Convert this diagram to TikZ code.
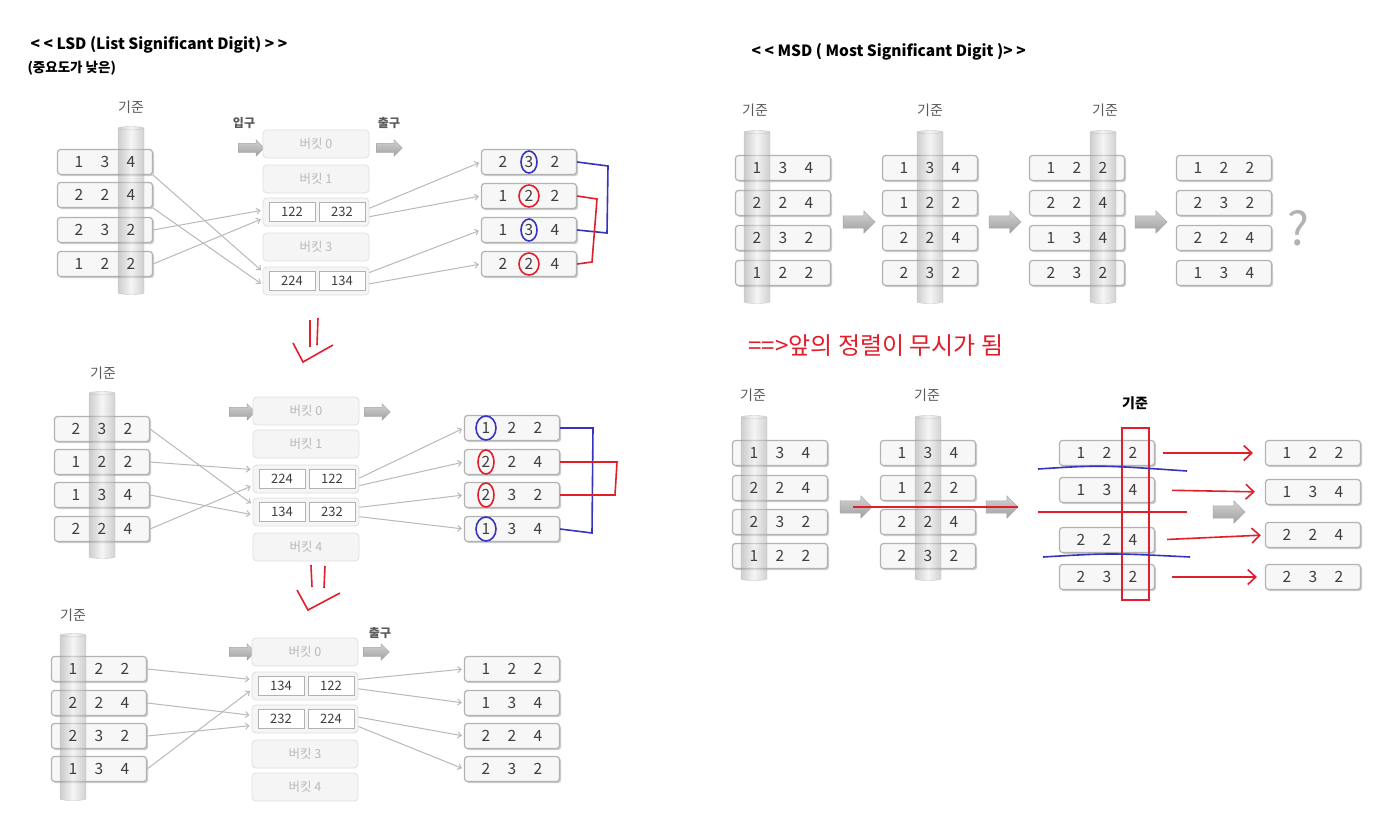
\documentclass[tikz,border=0pt]{standalone}
\usepackage{fontspec}
\setmainfont{Noto Sans CJK KR}
\usepackage{tikz}
\usetikzlibrary{positioning, arrows.meta, calc, shapes.geometric, shapes.arrows, shadows}
\pgfdeclarelayer{front}
\pgfsetlayers{main,front}
\definecolor{digitc}{RGB}{62,62,62}
\definecolor{penblue}{RGB}{52,52,190}
\definecolor{penred}{RGB}{226,30,42}
\newcommand{\dg}[3]{\makebox[26pt]{#1}\makebox[26pt]{#2}\makebox[26pt]{#3}}
\newcommand{\recnode}[3]{\node[rec] (#1) at (#2) {};
  \begin{pgfonlayer}{front}\node[dig] (#1d) at (#1.center) {\dg#3};\end{pgfonlayer}}

\begin{document}
\begin{tikzpicture}[x=1pt, y=-1pt,
  rec/.style={draw=gray!60, line width=1.2pt, fill=gray!6, rounded corners=3pt, minimum width=95pt, minimum height=25pt, inner sep=0pt,
    drop shadow={shadow xshift=1.6pt, shadow yshift=-1.6pt, fill=gray!70, opacity=0.55}},
  dig/.style={font=\fontsize{15.5}{15.5}\selectfont, text=digitc, inner sep=0pt},
  bk/.style={draw=gray!25, fill=gray!8, rounded corners=4pt, minimum width=106pt, minimum height=28pt, inner sep=0pt, line width=0.8pt,
    text=gray!55, font=\fontsize{12.5}{12.5}\selectfont},
  it/.style={draw=gray!60, fill=white, minimum width=46pt, minimum height=19pt, inner sep=0pt, font=\fontsize{13}{13}\selectfont, text=digitc},
  ba/.style={single arrow, draw=gray!70, top color=gray!35, bottom color=gray!75, minimum height=26pt, inner sep=4.5pt, single arrow head extend=3.5pt},
  bam/.style={ba, minimum height=32pt, inner sep=6pt, single arrow head extend=5pt},
  pil/.style={cylinder, shape border rotate=90, aspect=0.5, minimum width=26pt, draw=gray!60, left color=gray!75, right color=gray!70,
    middle color=gray!15, fill opacity=0.5, draw opacity=0.6},
  ln/.style={draw=gray!55, line width=1pt, -{Straight Barb[length=3.5pt, width=6pt]}, shorten >=2pt},
  lbl/.style={font=\fontsize{14}{14}\selectfont, text=gray!70!black},
  io/.style={font=\bfseries\fontsize{12}{12}\selectfont, text=gray!70!black},
  S/.style={penblue, line width=1.6pt},
  R/.style={penred, line width=1.6pt},
  rarr/.style={R, -{Straight Barb[length=8pt, width=15pt]}}]
\fill[white] (0,0) rectangle (1382,825);
\useasboundingbox (0,0) rectangle (1382,825);
% LSD, first pass
\node[font=\bfseries\fontsize{15.5}{15.5}\selectfont, anchor=west] (lsdt) at (27,45) {< < LSD (List Significant Digit) > >};
\node[font=\bfseries\fontsize{13.5}{13.5}\selectfont, anchor=west] (lsds) at (24,68) {(중요도가 낮은)};
\node[lbl] (ka) at (131,107) {기준};
\node[io] (ina) at (244,123) {입구};
\node[io] (outa) at (389,123) {출구};
\recnode{a1}{105,162}{134}
\recnode{a2}{105,195}{224}
\recnode{a3}{105,230}{232}
\recnode{a4}{105,264}{122}
\node[pil, minimum height=168pt] (pa) at (131,212) {};
\node[ba] (bai) at (249,148) {};
\node[ba] (bao) at (387,148) {};
\node[bk] (ab0) at (316,144) {버킷 0};
\node[bk] (ab1) at (316,179) {버킷 1};
\node[bk] (ab2) at (316,212) {};
\node[bk] (ab3) at (316,247) {버킷 3};
\node[bk] (ab4) at (316,281) {};
\node[it] (ai1) at (292,212) {122};
\node[it] (ai2) at (342,212) {232};
\node[it] (ai3) at (292,281) {224};
\node[it] (ai4) at (342,281) {134};
\recnode{ar1}{529,162}{232}
\recnode{ar2}{529,196}{122}
\recnode{ar3}{529,230}{134}
\recnode{ar4}{529,264}{224}
\draw[ln] (a1.south east) -- (ab4.170);
\draw[ln] (a2.south east) -- (ab4.184);
\draw[ln] (a3.east) -- (ab2.178);
\draw[ln] (a4.east) -- (ab2.187);
\draw[ln] (ab2.4) -- (ar1.west);
\draw[ln] (ab2.355) -- (ar2.west);
\draw[ln] (ab4.9) -- (ar3.west);
\draw[ln] (ab4.357) -- (ar4.west);
\draw[S] (ar1.center) ellipse [x radius=8, y radius=11];
\draw[S] (ar3.center) ellipse [x radius=8, y radius=11];
\draw[R] (ar2.center) ellipse [x radius=10, y radius=11];
\draw[R] (ar4.center) ellipse [x radius=10, y radius=11];
\draw[S] (ar1.east) -- (608,166) -- (607,233) -- (ar3.east);
\draw[R] (ar2.east) -- (597,199) -- (592,262) -- (ar4.east);
\draw[R] (310,320) -- (310,347);
\draw[R] (318,318) -- (317,345);
\draw[R] (293,343) -- (303,362) -- (333,345);
% LSD, second pass
\node[lbl] (kb) at (103,373) {기준};
\recnode{b1}{102,429}{232}
\recnode{b2}{102,462}{122}
\recnode{b3}{102,495}{134}
\recnode{b4}{102,529}{224}
\node[pil, minimum height=167pt] (pb) at (102,476.5) {};
\node[ba] (bbi) at (240,412) {};
\node[ba] (bbo) at (375,412) {};
\node[bk] (bb0) at (306,411) {버킷 0};
\node[bk] (bb1) at (306,444) {버킷 1};
\node[bk] (bb2) at (306,479) {};
\node[bk] (bb3) at (306,512) {};
\node[bk] (bb4) at (306,547) {버킷 4};
\node[it] (bi1) at (282,479) {224};
\node[it] (bi2) at (332,479) {122};
\node[it] (bi3) at (282,512) {134};
\node[it] (bi4) at (332,512) {232};
\recnode{br1}{512,428}{122}
\recnode{br2}{512,462}{224}
\recnode{br3}{512,495}{232}
\recnode{br4}{512,529}{134}
\draw[ln] (b1.east) -- (bb3.172);
\draw[ln] (b2.east) -- (bb2.170);
\draw[ln] (b3.east) -- (bb3.183);
\draw[ln] (b4.east) -- (bb2.187);
\draw[ln] (bb2.1) -- (br1.west);
\draw[ln] (bb2.353) -- (br2.west);
\draw[ln] (bb3.5) -- (br3.west);
\draw[ln] (bb3.355) -- (br4.west);
\draw[S] ($(br1.center)+(-26,0)$) ellipse [x radius=10, y radius=12];
\draw[S] ($(br4.center)+(-26,0)$) ellipse [x radius=10, y radius=12];
\draw[R] ($(br2.center)+(-26,0)$) ellipse [x radius=8, y radius=12];
\draw[R] ($(br3.center)+(-26,0)$) ellipse [x radius=8, y radius=12];
\draw[S] (br1.east) -- (593,428) -- (592,533) -- (br4.east);
\draw[R] (br2.east) -- (617,462) -- (615,495) -- (br3.east);
\draw[R] (311,565) -- (312,587);
\draw[R] (325,566) -- (324,588);
\draw[R] (297,590) -- (308,610) -- (340,593);
% LSD, third pass
\node[lbl] (kc) at (73,615) {기준};
\node[io] (outc) at (380,633) {출구};
\recnode{c1}{99,669}{122}
\recnode{c2}{99,703}{224}
\recnode{c3}{99,736}{232}
\recnode{c4}{99,769}{134}
\node[pil, minimum height=167pt] (pc) at (73,718.5) {};
\node[ba] (bci) at (240,652) {};
\node[ba] (bco) at (374,652) {};
\node[bk] (cb0) at (305,652) {버킷 0};
\node[bk] (cb1) at (305,686) {};
\node[bk] (cb2) at (305,719) {};
\node[bk] (cb3) at (305,754) {버킷 3};
\node[bk] (cb4) at (305,787) {버킷 4};
\node[it] (ci1) at (281,686) {134};
\node[it] (ci2) at (331,686) {122};
\node[it] (ci3) at (281,719) {232};
\node[it] (ci4) at (331,719) {224};
\recnode{cr1}{512,669}{122}
\recnode{cr2}{512,703}{134}
\recnode{cr3}{512,736}{224}
\recnode{cr4}{512,769}{232}
\draw[ln] (c1.east) -- (cb1.173);
\draw[ln] (c2.east) -- (cb2.176);
\draw[ln] (c3.east) -- (cb2.187);
\draw[ln] (c4.east) -- (cb1.184);
\draw[ln] (cb1.7) -- (cr1.west);
\draw[ln] (cb1.357) -- (cr2.west);
\draw[ln] (cb2.2) -- (cr3.west);
\draw[ln] (cb2.352) -- (cr4.west);
% MSD, top row
\node[font=\bfseries\fontsize{15.5}{15.5}\selectfont, anchor=west] (msdt) at (748,52) {< < MSD ( Most Significant Digit )> >};
\node[lbl] (km1) at (755,110) {기준};
\node[lbl] (km2) at (930,110) {기준};
\node[lbl] (km3) at (1105,110) {기준};
\recnode{m11}{783,168}{134}
\recnode{m12}{783,203}{224}
\recnode{m13}{783,238}{232}
\recnode{m14}{783,273}{122}
\node[pil, minimum height=173pt] (pm1) at (757,218.5) {};
\node[bam] (ma1) at (856,222) {};
\recnode{m21}{930,168}{134}
\recnode{m22}{930,203}{122}
\recnode{m23}{930,238}{224}
\recnode{m24}{930,273}{232}
\node[pil, minimum height=173pt] (pm2) at (930,218.5) {};
\node[bam] (ma2) at (1002,222) {};
\recnode{m31}{1077,168}{122}
\recnode{m32}{1077,203}{224}
\recnode{m33}{1077,238}{134}
\recnode{m34}{1077,273}{232}
\node[pil, minimum height=173pt] (pm3) at (1103,218.5) {};
\node[bam] (ma3) at (1148,222) {};
\recnode{m41}{1224,168}{122}
\recnode{m42}{1224,203}{232}
\recnode{m43}{1224,238}{224}
\recnode{m44}{1224,273}{134}
\node[font=\fontsize{46}{46}\selectfont, text=gray!60] (qm) at (1298,228) {?};
\node[anchor=west, text=penred, font=\fontsize{24}{24}\selectfont] (note) at (745,346) {==>앞의 정렬이 무시가 됨};
% MSD, bottom row
\node[lbl] (kn1) at (753,395) {기준};
\node[lbl] (kn2) at (927,395) {기준};
\node[font=\bfseries\fontsize{14}{14}\selectfont] (kn3) at (1135,403) {기준};
\recnode{n11}{780,453}{134}
\recnode{n12}{780,488}{224}
\recnode{n13}{780,522}{232}
\recnode{n14}{780,556}{122}
\node[pil, minimum height=165pt] (pn1) at (754,499.5) {};
\node[bam] (na1) at (853,507) {};
\recnode{n21}{928,453}{134}
\recnode{n22}{928,488}{122}
\recnode{n23}{928,522}{224}
\recnode{n24}{928,556}{232}
\node[pil, minimum height=165pt] (pn2) at (928,499.5) {};
\node[bam] (na2) at (999,507) {};
\draw[R] (na1.center) -- (na2.east);
\recnode{n31}{1107,453}{122}
\recnode{n32}{1107,490}{134}
\recnode{n33}{1107,540}{224}
\recnode{n34}{1107,577}{232}
\node[draw=penred, line width=1.6pt, minimum width=27pt, minimum height=172pt, inner sep=0pt] (col) at (1135.5,514) {};
\draw[S] (1038,469) .. controls (1100,465) .. (1187,471);
\draw[S] (1043,557) .. controls (1110,553) .. (1190,557);
\draw[R] (1038,512) -- (1187,512);
\node[bam] (na3) at (1226,512) {};
\recnode{n41}{1313,453}{122}
\recnode{n42}{1313,492}{134}
\recnode{n43}{1313,535}{224}
\recnode{n44}{1313,577}{232}
\draw[rarr, shorten <=8pt, shorten >=12pt] (n31.east) -- (n41.west);
\draw[rarr, shorten <=17pt, shorten >=10pt] (n32.east) -- (n42.west);
\draw[rarr, shorten <=12pt, shorten >=4pt] (n33.east) -- (n43.west);
\draw[rarr, shorten <=17pt, shorten >=8pt] (n34.east) -- (n44.west);
\end{tikzpicture}
\end{document}
